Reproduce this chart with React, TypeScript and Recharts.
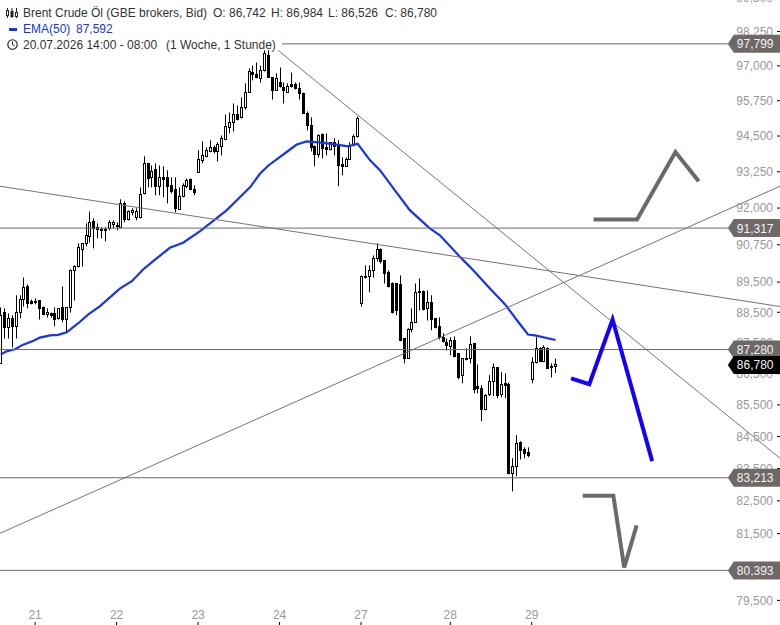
import {
  Bar,
  ComposedChart,
  Line,
  ReferenceDot,
  ReferenceLine,
  XAxis,
  YAxis,
} from "recharts";

const opens = [
  86.83, 88.49, 88.0, 88.3, 88.04, 88.49, 88.92, 89.35, 88.86, 88.86, 88.89, 88.66, 88.43, 88.46, 88.46, 88.3, 88.66, 88.26, 88.66, 89.87,
  90.02, 90.6, 90.8, 91.03, 91.54, 91.34, 91.27, 91.24, 91.31, 91.44, 91.41, 91.34, 92.16, 91.61, 91.85, 91.68, 91.68, 92.5, 93.54, 93.06,
  93.33, 92.75, 93.06, 93.06, 92.78, 92.64, 91.95, 92.4, 92.75, 92.99, 92.64, 93.23, 93.65, 93.79, 93.96, 94.1, 93.96, 94.14, 94.38, 94.8,
  94.98, 95.26, 95.16, 95.51, 96.04, 96.76, 96.69, 96.55, 96.83, 97.38, 96.58, 96.12, 96.4, 96.22, 96.04, 96.33, 96.33, 96.19, 96.01, 95.3,
  94.87, 94.14, 93.86, 94.56, 94.1, 94.03, 94.28, 94.17, 93.51, 93.44, 93.68, 94.17, 94.49, 88.79, 89.69, 89.69, 89.89, 90.29, 90.6, 90.23,
  89.82, 89.45, 89.45, 89.42, 87.64, 87.0, 87.94, 88.17, 89.19, 89.19, 88.63, 88.83, 88.3, 88.04, 87.68, 87.51, 87.38, 87.58, 87.16, 86.45,
  86.96, 87.0, 87.48, 86.1, 86.03, 85.36, 85.84, 86.26, 86.71, 85.84, 86.19, 86.16, 83.35, 83.57, 84.32, 84.1, 84.0, 86.32, 86.87, 87.32,
  86.9, 87.32, 86.7, 86.742,
];
const highs = [
  88.66, 88.63, 88.46, 88.4, 89.06, 89.06, 89.65, 89.42, 88.92, 88.96, 88.89, 88.69, 88.63, 88.49, 88.66, 88.63, 89.35, 88.66, 89.92, 90.06,
  90.8, 90.8, 91.48, 91.88, 91.65, 91.48, 91.34, 91.34, 91.58, 91.58, 91.51, 92.3, 92.23, 91.92, 91.99, 91.99, 92.71, 93.79, 93.54, 93.47,
  93.54, 93.47, 93.44, 93.3, 93.06, 93.06, 92.71, 92.85, 93.02, 93.02, 92.78, 94.0, 94.31, 94.1, 94.35, 94.17, 94.28, 94.52, 95.26, 95.33,
  95.65, 95.58, 95.87, 96.37, 96.91, 97.01, 97.12, 97.01, 97.56, 97.56, 96.58, 96.73, 96.94, 96.4, 96.37, 96.76, 96.4, 96.4, 96.04, 95.37,
  95.16, 94.17, 94.56, 94.59, 94.59, 94.28, 94.42, 94.35, 93.75, 93.75, 94.28, 94.56, 95.19, 89.72, 90.06, 90.06, 90.39, 90.8, 90.63, 90.23,
  89.89, 89.49, 89.45, 89.72, 87.64, 87.97, 88.63, 89.45, 89.62, 89.22, 89.22, 89.06, 88.3, 88.33, 87.81, 87.64, 87.68, 87.71, 87.16, 87.0,
  87.32, 87.71, 87.48, 86.8, 86.13, 85.84, 86.45, 86.83, 86.71, 86.55, 86.51, 86.22, 83.82, 84.54, 84.35, 84.16, 84.16, 87.03, 87.68, 87.35,
  87.42, 87.35, 86.83, 86.984,
];
const lows = [
  86.83, 87.64, 87.64, 87.35, 87.64, 88.3, 88.69, 88.63, 88.76, 88.76, 88.26, 88.4, 88.33, 88.33, 88.04, 88.26, 88.17, 87.84, 88.49, 88.89,
  89.99, 90.02, 90.7, 90.83, 90.63, 90.97, 90.97, 90.87, 91.24, 91.31, 91.24, 91.31, 91.51, 91.58, 91.75, 91.58, 91.65, 92.47, 92.71, 92.71,
  92.44, 92.44, 92.37, 92.16, 92.5, 91.85, 91.95, 92.37, 92.68, 92.61, 92.44, 93.23, 93.54, 93.75, 93.93, 93.89, 93.61, 93.82, 94.35, 94.59,
  94.66, 95.05, 95.12, 95.44, 96.04, 96.48, 96.55, 96.4, 96.8, 96.58, 95.79, 96.12, 96.22, 95.65, 96.04, 96.22, 96.15, 95.79, 95.3, 94.7,
  93.96, 93.44, 93.75, 93.72, 93.82, 94.0, 93.82, 92.75, 93.13, 93.44, 93.68, 94.14, 94.45, 88.69, 89.62, 89.16, 89.65, 90.19, 90.12, 89.45,
  89.32, 88.46, 88.4, 87.55, 86.83, 87.0, 87.84, 88.17, 88.56, 88.56, 88.23, 87.91, 87.97, 87.61, 87.51, 87.25, 87.09, 87.03, 86.32, 86.19,
  86.93, 86.83, 85.87, 85.87, 84.98, 85.33, 85.78, 85.78, 85.71, 85.74, 85.71, 83.32, 82.79, 83.26, 83.78, 83.82, 83.85, 86.19, 86.83, 86.87,
  86.87, 86.67, 86.38, 86.526,
];
const closes = [
  88.4, 88.0, 88.3, 88.04, 88.49, 88.92, 89.32, 88.79, 88.79, 88.83, 88.63, 88.43, 88.49, 88.4, 88.26, 88.63, 88.26, 88.66, 89.89, 90.02,
  90.66, 90.8, 91.07, 91.51, 91.31, 91.27, 91.24, 91.27, 91.51, 91.51, 91.37, 92.16, 91.61, 91.88, 91.92, 91.88, 92.47, 93.54, 93.02, 93.26,
  92.75, 93.06, 92.99, 92.75, 92.57, 91.99, 92.4, 92.78, 92.95, 92.64, 92.54, 93.68, 93.82, 94.0, 94.1, 93.96, 94.21, 94.42, 94.84, 94.98,
  95.26, 95.09, 95.51, 96.04, 96.8, 96.69, 96.58, 96.83, 97.45, 96.58, 96.12, 96.55, 96.26, 96.12, 96.26, 96.26, 96.19, 96.01, 95.3, 94.87,
  94.1, 93.86, 94.52, 94.07, 94.03, 94.28, 94.14, 93.47, 93.44, 93.68, 94.17, 94.49, 95.12, 89.69, 89.65, 89.89, 90.29, 90.6, 90.19, 89.79,
  89.35, 88.49, 88.56, 87.58, 87.0, 87.94, 88.17, 89.16, 89.16, 88.59, 88.83, 88.26, 88.0, 87.68, 87.55, 87.42, 87.58, 87.06, 86.38, 87.0,
  87.0, 87.45, 86.0, 86.03, 85.36, 85.81, 86.26, 86.71, 85.81, 86.16, 86.13, 83.35, 83.57, 84.28, 84.07, 83.97, 83.91, 86.87, 87.32, 86.9,
  87.35, 86.67, 86.72, 86.78,
];

const emaIndex = [
  0, 1.5, 3.7, 5.8, 8.3, 10.1, 12.7, 14.8, 17, 20, 22.5, 25.6, 30.7, 33.8, 36.7, 39.3, 43.6, 47, 51.4, 58.2, 60.8, 64.3, 66.8, 69, 73.7, 76.3,
  78.9, 83.1, 86.6, 89.5, 92, 95.2, 97.8, 101.6, 105.5, 110.6, 113.2, 118.4, 121, 126.1, 130, 133.1, 135.9, 137.7, 143,
];
const emaValues = [
  87.12, 87.22, 87.29, 87.44, 87.56, 87.67, 87.74, 87.76, 87.84, 88.14, 88.42, 88.7, 89.28, 89.53, 89.92, 90.2, 90.65, 90.82, 91.21, 91.92,
  92.26, 92.72, 93.18, 93.47, 93.94, 94.2, 94.31, 94.26, 94.2, 94.14, 94.23, 93.65, 93.3, 92.61, 91.92, 91.31, 91.07, 90.34, 90.0, 89.29,
  88.76, 88.23, 87.77, 87.74, 87.592,
];

const yTicks = [99.5, 98.25, 97, 95.75, 94.5, 93.25, 92, 90.75, 89.5, 88.5, 87.5, 86.5, 85.5, 84.5, 83.5, 82.5, 81.5, 79.5];
const dayTicks = [9, 30, 51, 72, 93, 116, 137];
const dayLabels = ["21", "22", "23", "24", "27", "28", "29"];
const levels = [97.799, 91.317, 87.28, 83.213, 80.393];
const lastPrice = 86.78;

const blueX = [147, 151.7, 157.7, 167.9];
const blueY = [86.35, 86.16, 88.26, 83.73];
const upperX = [152.8, 164, 173.9, 179.9];
const upperY = [91.61, 91.61, 93.94, 92.92];
const lowerX = [150, 157.9, 160.7, 163.9];
const lowerY = [82.66, 82.66, 80.48, 81.75];

const X_MIN = -0.18;
const X_MAX = 200.85;
const Y_DOMAIN = [79.275, 99.408];
const TAG_X = 187.4;

const FONT = "'Liberation Sans', Arial, sans-serif";
const GREY = "#6e6966";
const LINE_GREY = "#777472";
const BLUE = "#1433f5";

const candles = opens.map((o, i) => ({
  i,
  o,
  c: closes[i],
  h: highs[i],
  l: lows[i],
  range: [lows[i], highs[i]],
}));
const zip = (xs: number[], ys: number[]) => xs.map((i, k) => ({ i, v: ys[k] }));

const fmt = (v: number) => v.toFixed(3).replace(".", ",");

// the bar covers low..high, open and close are placed inside it on the log axis
const Candle = (props: any) => {
  const { x, y, width, height, payload } = props;
  const { o, c, h, l } = payload;
  const pos = (v: number) => y + (height * Math.log(h / v)) / Math.log(h / l);
  const cx = Math.round(x + width / 2 - 0.5) + 0.5;
  const up = c >= o;
  const top = Math.round(pos(Math.max(o, c)) - 0.5) + 0.5;
  const bottom = Math.round(pos(Math.min(o, c)) - 0.5) + 0.5;
  return (
    <g>
      <line x1={cx} x2={cx} y1={y} y2={y + height} stroke="#000" strokeWidth={1} />
      <rect
        x={cx - 1}
        y={top}
        width={2}
        height={Math.max(bottom - top, 1)}
        fill={up ? "#fff" : "#000"}
        stroke="#000"
        strokeWidth={1}
      />
    </g>
  );
};

const PriceTag = (props: any) => {
  const { cx, cy, tagFill, text } = props;
  const points = [
    [cx, cy],
    [cx + 6, cy - 9],
    [cx + 53, cy - 9],
    [cx + 53, cy + 9],
    [cx + 6, cy + 9],
  ]
    .map((p) => p.join(","))
    .join(" ");
  return (
    <g>
      <polygon points={points} fill={tagFill} stroke="none" />
      <text x={cx + 9} y={cy + 4.5} fontSize={12} fontFamily={FONT} fill="#f4f4f4" stroke="none">
        {text}
      </text>
    </g>
  );
};

const DayTick = (props: any) => {
  const { x, y, payload } = props;
  return (
    <g>
      <text x={x - 0.5} y={y + 9} textAnchor="middle" fontSize={12} fontFamily={FONT} fill="#999">
        {dayLabels[dayTicks.indexOf(payload.value)]}
      </text>
      <line x1={x - 0.5} x2={x - 0.5} y1={y + 12} y2={y + 15} stroke="#000" />
    </g>
  );
};

const Header = () => {
  const row = { position: "absolute", whiteSpace: "pre", lineHeight: "16px" } as const;
  return (
    <div
      style={{
        position: "absolute",
        left: 0,
        top: 0,
        width: 278,
        height: 50,
        background: "rgba(255,255,255,0.7)",
        fontFamily: FONT,
        fontSize: 12,
        color: "#333",
      }}
    >
      <svg width={20} height={50} style={{ position: "absolute", left: 0, top: 0 }}>
        <g stroke="#222" fill="none">
          <path d="M7.5 8v10M12 8v10M16.5 8v10" />
          <rect x={6.5} y={10.5} width={2} height={5} fill="#fff" />
          <rect x={11} y={11.5} width={2} height={5} fill="#222" />
          <rect x={15.5} y={12.5} width={2} height={4} fill="#fff" />
          <circle cx={12.5} cy={44.5} r={4.7} strokeWidth={1.1} />
          <path d="M12.5 41.5v3.2l2.2 1.3" />
        </g>
        <rect x={9} y={28} width={8} height={3} fill={BLUE} />
      </svg>
      <span style={{ ...row, left: 23, top: 5 }}>Brent Crude Öl (GBE brokers, Bid)</span>
      <span style={{ ...row, left: 213, top: 5, width: 300 }}>O: 86,742</span>
      <span style={{ ...row, left: 271, top: 5 }}>H: 86,984</span>
      <span style={{ ...row, left: 328, top: 5 }}>L: 86,526</span>
      <span style={{ ...row, left: 385, top: 5 }}>C: 86,780</span>
      <span style={{ ...row, left: 23, top: 21, color: BLUE }}>EMA(50)</span>
      <span style={{ ...row, left: 76, top: 21, color: BLUE }}>87,592</span>
      <span style={{ ...row, left: 23, top: 37 }}>20.07.2026 14:00 - 08:00</span>
      <span style={{ ...row, left: 166, top: 37 }}>(1 Woche, 1 Stunde)</span>
    </div>
  );
};

export default function App() {
  return (
    <div style={{ position: "absolute", left: 0, top: 0, width: 780, height: 625, overflow: "hidden", background: "#fff" }}>
      <ComposedChart width={780} height={625} data={candles} margin={{ top: 0, right: 0, bottom: 0, left: 0 }}>
        <XAxis
          dataKey="i"
          type="number"
          domain={[X_MIN, X_MAX]}
          ticks={dayTicks}
          interval={0}
          height={17}
          axisLine={false}
          tickLine={false}
          tickSize={0}
          tick={<DayTick />}
          allowDataOverflow
        />
        <YAxis
          orientation="right"
          mirror
          width={1}
          scale="log"
          domain={Y_DOMAIN}
          ticks={yTicks}
          interval={0}
          axisLine={false}
          tickSize={3}
          tickMargin={4}
          tickLine={{ stroke: "#000" }}
          tick={{ fontSize: 12, fontFamily: FONT, fill: "#999" }}
          tickFormatter={fmt}
          allowDataOverflow
        />
        <Bar dataKey="range" barSize={3} shape={<Candle />} isAnimationActive={false} />
        <Line
          dataKey="v"
          data={zip(emaIndex, emaValues)}
          type="linear"
          stroke={BLUE}
          strokeWidth={2.2}
          dot={false}
          activeDot={false}
          isAnimationActive={false}
        />
        <ReferenceLine segment={[{ x: 71.5, y: 97.56 }, { x: X_MAX, y: 83.82 }]} stroke={LINE_GREY} ifOverflow="visible" />
        <ReferenceLine segment={[{ x: X_MIN, y: 92.75 }, { x: X_MAX, y: 88.69 }]} stroke={LINE_GREY} ifOverflow="visible" />
        <ReferenceLine segment={[{ x: X_MIN, y: 81.51 }, { x: X_MAX, y: 92.75 }]} stroke={LINE_GREY} ifOverflow="visible" />
        {levels.map((v, k) => (
          <ReferenceLine
            key={v}
            segment={[{ x: k === 0 ? 72.5 : X_MIN, y: v }, { x: TAG_X, y: v }]}
            stroke={GREY}
            ifOverflow="visible"
          />
        ))}
        <Line
          dataKey="v"
          data={zip(blueX, blueY)}
          stroke="#1400ff"
          strokeWidth={4}
          dot={false}
          activeDot={false}
          isAnimationActive={false}
        />
        <Line
          dataKey="v"
          data={zip(upperX, upperY)}
          stroke={GREY}
          strokeWidth={4}
          dot={false}
          activeDot={false}
          isAnimationActive={false}
        />
        <Line
          dataKey="v"
          data={zip(lowerX, lowerY)}
          stroke={GREY}
          strokeWidth={4}
          dot={false}
          activeDot={false}
          isAnimationActive={false}
        />
      </ComposedChart>
      {/* axis text is always painted over reference dots, so the price tags get a second chart on top */}
      <div style={{ position: "absolute", left: 0, top: 0 }}>
        <ComposedChart width={780} height={625} data={candles} margin={{ top: 0, right: 0, bottom: 17, left: 0 }}>
          <XAxis dataKey="i" type="number" domain={[X_MIN, X_MAX]} hide allowDataOverflow />
          <YAxis orientation="right" scale="log" domain={Y_DOMAIN} hide allowDataOverflow />
          {levels.map((v) => (
            <ReferenceDot key={v} x={TAG_X} y={v} shape={<PriceTag tagFill={GREY} text={fmt(v)} />} ifOverflow="visible" />
          ))}
          <ReferenceDot x={TAG_X} y={lastPrice} shape={<PriceTag tagFill="#000" text={fmt(lastPrice)} />} ifOverflow="visible" />
        </ComposedChart>
      </div>
      <Header />
    </div>
  );
}
